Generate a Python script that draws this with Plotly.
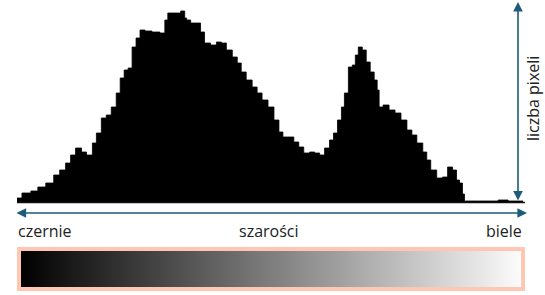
import plotly.graph_objects as go

# Histogram of grey levels (0 = black, 255 = white); counts in arbitrary units
grey_levels = [0, 5, 9, 12, 17, 20, 23, 26, 28, 31, 34, 36, 37, 39, 41, 44, 46, 49, 51, 53,
               55, 57, 59, 61, 63, 66, 70, 74, 75, 77, 81, 84, 85, 86, 89, 92, 93, 96, 99, 102,
               104, 107, 110, 112, 114, 117, 120, 122, 125, 128, 131, 133, 135, 138, 141, 143,
               146, 149, 151, 154, 156, 159, 160, 163, 164, 166, 168, 170, 171, 173, 175, 177,
               179, 181, 182, 183, 186, 189, 192, 195, 198, 200, 203, 206, 207, 210, 213, 216,
               218, 221, 222, 224, 225, 226, 240, 245, 250, 255]
pixel_counts = [4, 9, 11, 15, 19, 27, 32, 39, 47, 54, 50, 47, 47, 59, 69, 84, 87, 95, 109, 124,
                132, 134, 155, 164, 172, 171, 170, 169, 182, 189, 189, 191, 184, 182, 179, 179, 170, 159, 157, 160,
                159, 152, 145, 139, 130, 122, 115, 109, 102, 95, 82, 70, 65, 65, 60, 55,
                49, 50, 49, 47, 54, 62, 69, 82, 95, 109, 135, 137, 147, 155, 152, 140,
                130, 122, 112, 95, 97, 92, 89, 82, 72, 67, 59, 50, 42, 32, 24, 25,
                35, 32, 22, 19, 8, 1, 1, 2, 1, 1]

gradient_levels = list(range(256))

label_left = "czernie"
label_mid = "szarości"
label_right = "biele"
label_y = "liczba pixeli"

W, H = 545, 295
ARROW = "#1d5b7b"
TEXT = "#222222"
FONT = "Open Sans"


def px(x):
    return x / W


def py(y):
    return (H - y) / H


fig = go.Figure()

fig.add_trace(go.Scatter(
    x=grey_levels, y=pixel_counts, mode="lines", fill="tozeroy",
    fillcolor="black", line=dict(color="black", width=0.8, shape="hvh"),
    xaxis="x", yaxis="y", hoverinfo="skip", showlegend=False,
))

fig.add_trace(go.Heatmap(
    x=gradient_levels, y=[0], z=[gradient_levels],
    colorscale=[[0, "#000000"], [1, "#fbfbfb"]], zsmooth="best",
    showscale=False, xaxis="x2", yaxis="y2", hoverinfo="skip",
))

fig.update_layout(
    width=W, height=H,
    margin=dict(l=0, r=0, t=0, b=0),
    paper_bgcolor="white", plot_bgcolor="white",
    showlegend=False,
    xaxis=dict(domain=[px(17), px(523)], range=[0, 255], visible=False, fixedrange=True),
    yaxis=dict(domain=[py(202), py(2)], range=[0, 200], visible=False, fixedrange=True),
    xaxis2=dict(domain=[px(20), px(520)], range=[0, 255], visible=False, anchor="y2"),
    yaxis2=dict(domain=[py(288), py(250)], range=[-0.5, 0.5], visible=False, anchor="x2"),
)

shapes = [
    # baseline of histogram
    dict(type="line", xref="paper", yref="paper", x0=px(17), x1=px(525), y0=py(202.5), y1=py(202.5),
         line=dict(color="#111111", width=1.5)),
    # border around gradient bar
    dict(type="rect", xref="paper", yref="paper", x0=px(19), x1=px(523), y0=py(249), y1=py(289),
         line=dict(color="#ffc6b4", width=4), layer="above"),
]
fig.update_layout(shapes=shapes)

annotations = [
    # horizontal double arrow
    dict(xref="paper", yref="paper", axref="pixel", ayref="pixel",
         x=px(527), y=py(213), ax=-(527 - 15), ay=0, text="", showarrow=True,
         arrowhead=2, arrowside="end+start", arrowsize=1.2, arrowwidth=1.6, arrowcolor=ARROW,
         standoff=0, startstandoff=0),
    # vertical double arrow
    dict(xref="paper", yref="paper", axref="pixel", ayref="pixel",
         x=px(518), y=py(2), ax=0, ay=200, text="", showarrow=True,
         arrowhead=2, arrowside="end+start", arrowsize=1.2, arrowwidth=1.6, arrowcolor=ARROW,
         standoff=0, startstandoff=0),
    dict(xref="paper", yref="paper", x=px(16), y=py(231), text=label_left, showarrow=False,
         xanchor="left", yanchor="middle", font=dict(family=FONT, size=16, color=TEXT)),
    dict(xref="paper", yref="paper", x=px(269), y=py(231), text=label_mid, showarrow=False,
         xanchor="center", yanchor="middle", font=dict(family=FONT, size=16, color=TEXT)),
    dict(xref="paper", yref="paper", x=px(524), y=py(231), text=label_right, showarrow=False,
         xanchor="right", yanchor="middle", font=dict(family=FONT, size=16, color=TEXT)),
    dict(xref="paper", yref="paper", x=px(533), y=py(99), text=label_y, showarrow=False, textangle=-90,
         xanchor="center", yanchor="middle", font=dict(family=FONT, size=16, color=TEXT)),
]
fig.update_layout(annotations=annotations)

fig.write_html("out.html")
